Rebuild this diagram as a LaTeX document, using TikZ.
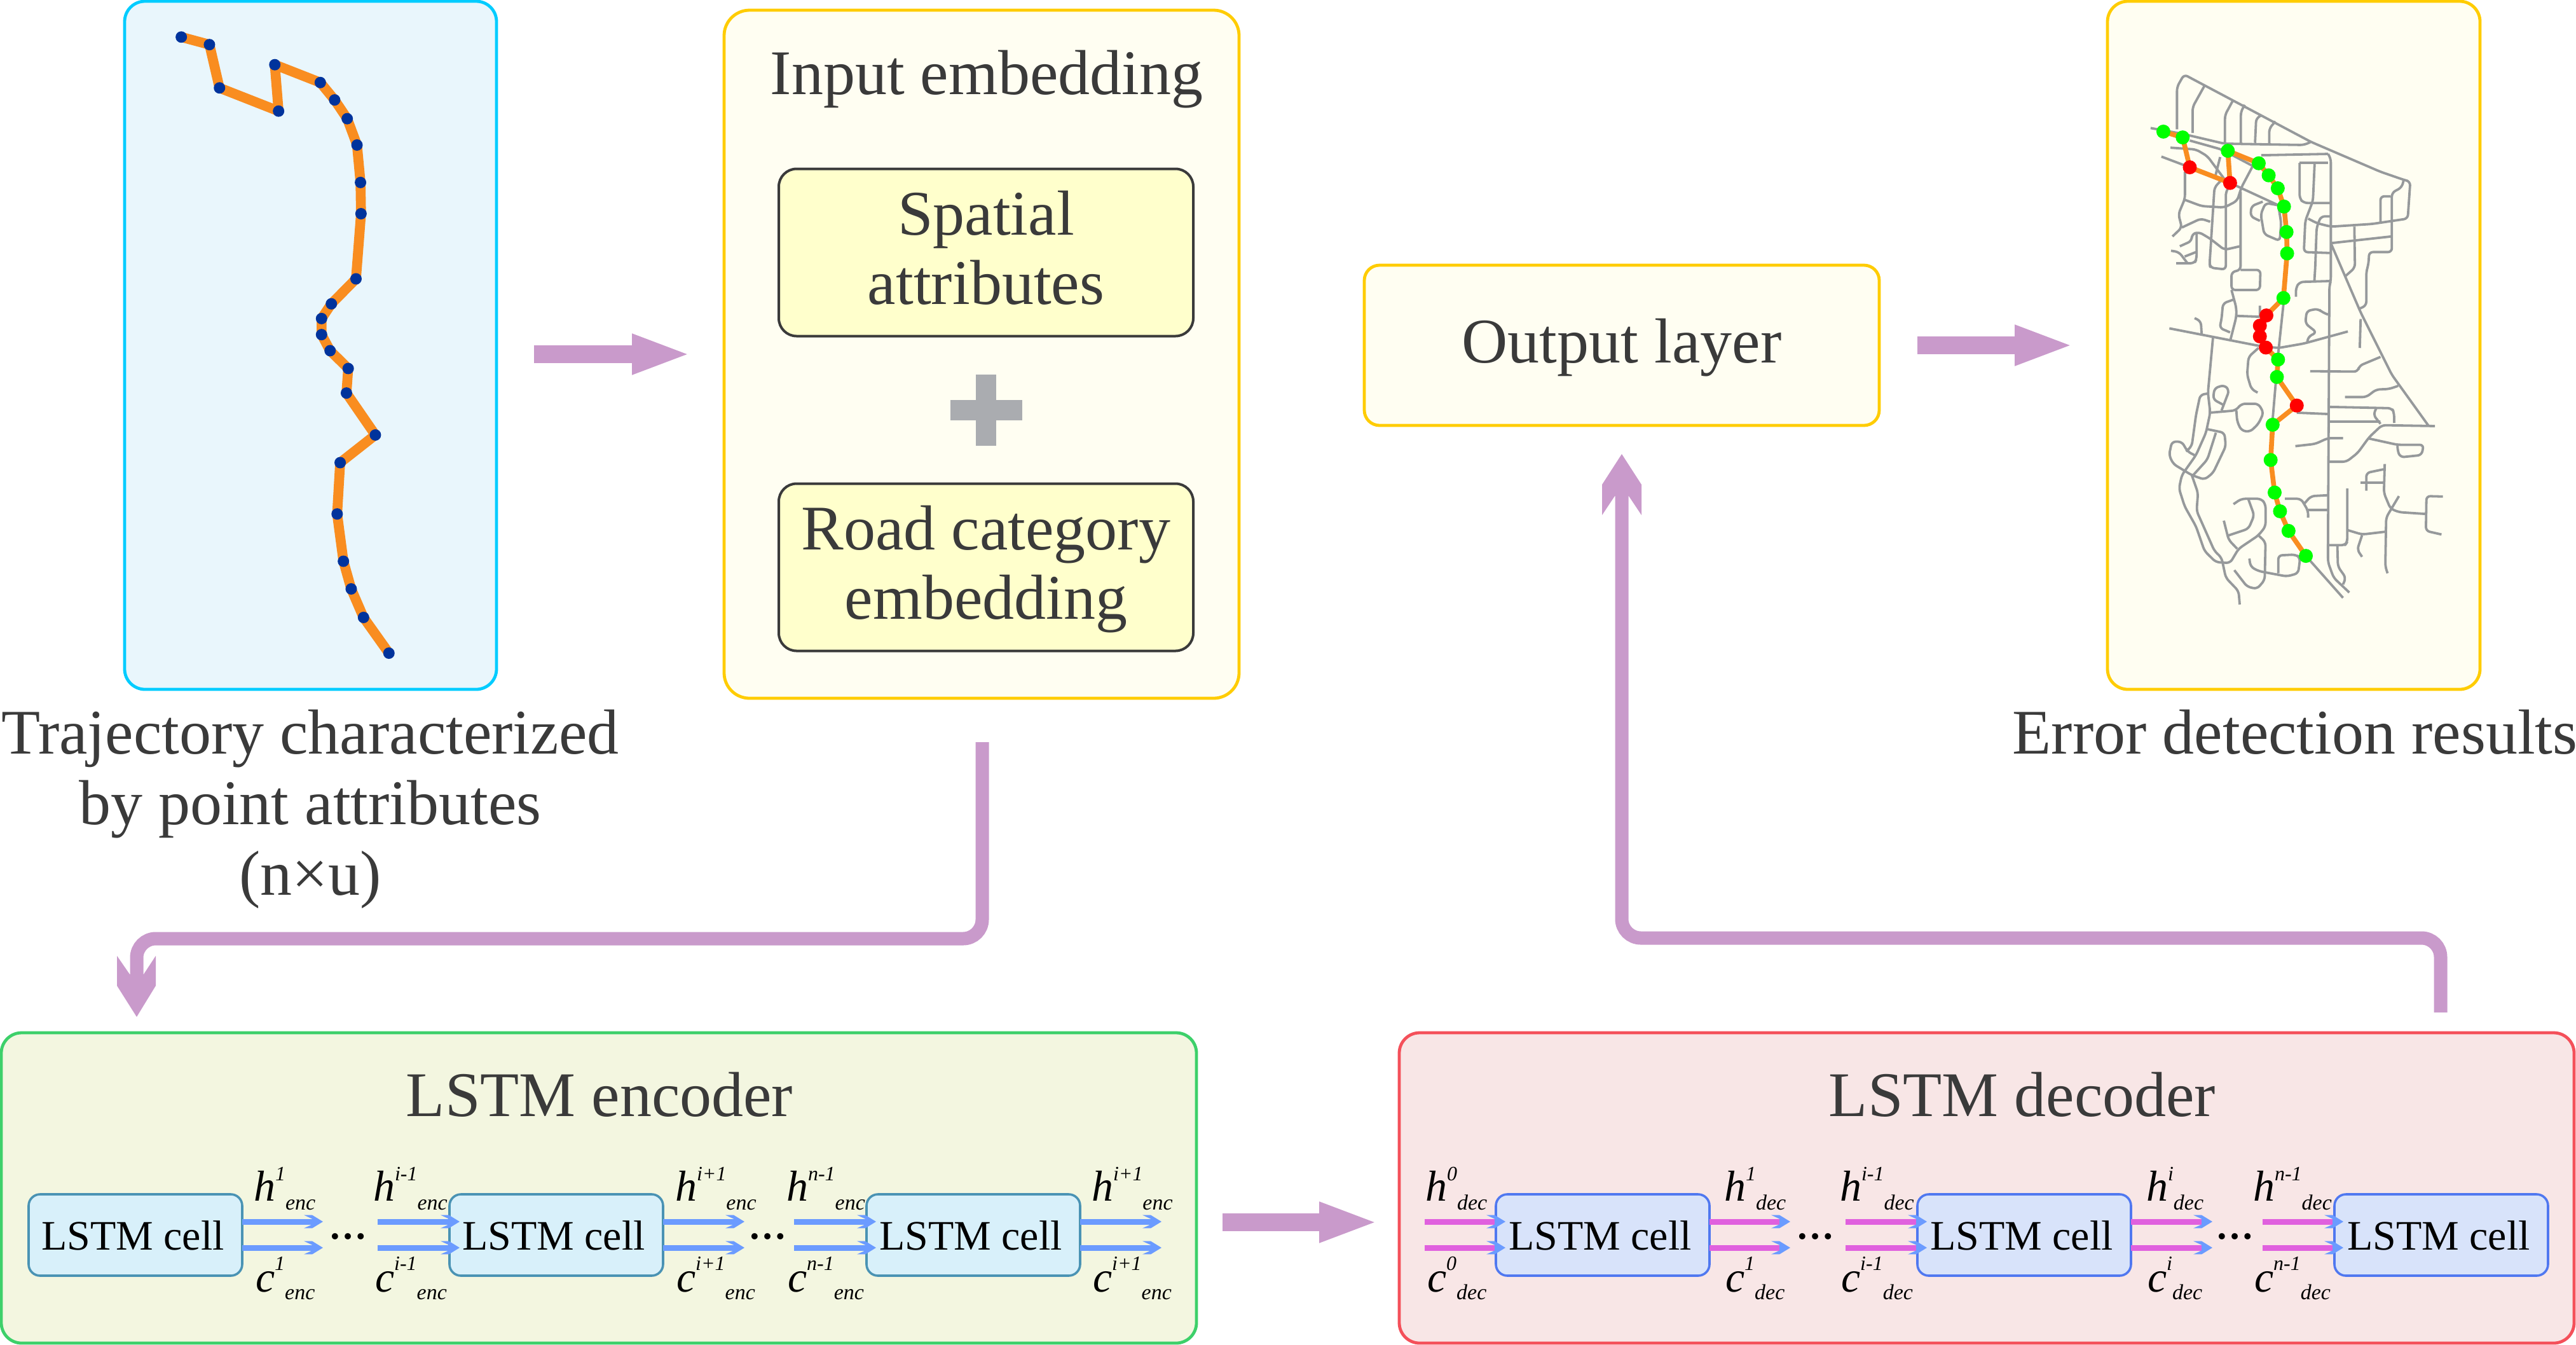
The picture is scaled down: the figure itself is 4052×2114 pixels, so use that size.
\documentclass[tikz,border=0pt]{standalone}
\usepackage{fontspec}
\setmainfont{Liberation Serif}
\usetikzlibrary{arrows.meta}
\definecolor{txt}{HTML}{3A3A3A}
\definecolor{flow}{HTML}{C99ACB}
\definecolor{bluearr}{HTML}{6B9BFF}
\definecolor{magarr}{HTML}{E060DE}
\definecolor{trajline}{HTML}{F98D20}
\definecolor{trajdot}{HTML}{00339C}
\definecolor{roadc}{HTML}{96999B}
\definecolor{okdot}{HTML}{00FF00}
\definecolor{baddot}{HTML}{FF0000}
\definecolor{plusc}{HTML}{AAACB0}
\definecolor{innerfill}{HTML}{FFFFCC}
\definecolor{enccelld}{HTML}{4A93B4}
\definecolor{enccellf}{HTML}{D8F0FA}
\definecolor{deccelld}{HTML}{5078F0}
\definecolor{deccellf}{HTML}{D8E3FA}
\pgfdeclarearrow{
  name=Chev,
  setup code={\pgfarrowssettipend{0pt}\pgfarrowssetlineend{-3.8pt}\pgfarrowssetbackend{-7.5pt}\pgfarrowssetvisualbackend{-7.5pt}},
  drawing code={
    \pgfsetfillcolor{pgfstrokecolor}
    \pgfpathmoveto{\pgfqpoint{0pt}{0pt}}
    \pgfpathlineto{\pgfqpoint{-4.25pt}{2.6pt}}
    \pgfpathlineto{\pgfqpoint{-7.5pt}{2.6pt}}
    \pgfpathlineto{\pgfqpoint{-4.25pt}{1.1pt}}
    \pgfpathlineto{\pgfqpoint{-4.25pt}{-1.1pt}}
    \pgfpathlineto{\pgfqpoint{-7.5pt}{-2.6pt}}
    \pgfpathlineto{\pgfqpoint{-4.25pt}{-2.6pt}}
    \pgfpathclose
    \pgfusepathqfill
  }
}
\newcommand{\twolines}[2]{\rule{0pt}{20pt}#1\\#2\rule[-6.6pt]{0pt}{6.6pt}}
\newcommand{\lstmtext}{LSTM cell\hspace*{2pt}}
% h or c, superscript, subscript, raise of the superscript, drop of the subscript
\newcommand{\statelabel}[5]{{\fontsize{17}{17}\selectfont #1}\raisebox{#4}{\fontsize{8}{8}\selectfont #2}\raisebox{-#5}{\fontsize{8.5}{8.5}\selectfont #3}}
\newcommand{\hlab}[2]{\statelabel{h}{#1}{#2}{8pt}{3.7pt}}
\newcommand{\clab}[2]{\statelabel{c}{#1}{#2}{8.5pt}{3.2pt}}
\tikzset{
  panel/.style={draw,rounded corners=8pt,line width=1.2pt,inner sep=0pt,outer sep=0pt},
  innerbox/.style={panel,draw=txt,fill=innerfill,line width=1pt,rounded corners=7pt,text=txt,align=center,
     minimum width=163pt,minimum height=65.75pt,font=\fontsize{25}{27.25}\selectfont},
  bigtext/.style={text=txt,inner sep=0pt,font=\fontsize{25}{27.75}\selectfont},
  cell/.style={draw,rounded corners=4.5pt,line width=.9pt,inner sep=0pt,outer sep=0pt,minimum width=84pt,minimum height=32pt,
     text height=15pt,text depth=3.5pt,font=\fontsize{16.5}{18}\selectfont},
  enccell/.style={cell,draw=enccelld,fill=enccellf},
  deccell/.style={cell,draw=deccelld,fill=deccellf},
  statenode/.style={anchor=base west,inner sep=0pt,outer sep=0pt,font=\itshape},
  dots/.style={anchor=base,inner sep=0pt,font=\fontsize{15}{15}\selectfont\bfseries},
  thin arrow/.style={line width=2.25pt,-{Chev}},
  encarrow/.style={thin arrow,draw=bluearr},
  decarrow/.style={thin arrow,draw=magarr},
  bigarrow/.style={draw=flow,line width=7pt,-{Triangle[length=23.5pt,width=14.25pt]}},
  routeline/.style={draw=flow,line width=5.25pt,rounded corners=7.5pt},
  road/.style={draw=roadc,line width=.95pt,rounded corners=1.5pt,line join=round},
}
\begin{document}
\begin{tikzpicture}[x=0.25pt,y=-0.25pt]
\useasboundingbox (0,0) rectangle (4052,2114);
\fill[white] (0,0) rectangle (4052,2114);

% Large panels
\node[panel,draw={rgb,255:red,0;green,204;blue,255},fill={rgb,255:red,233;green,246;blue,252},minimum width=146.25pt,minimum height=270.5pt] (traj) at (488.5,543) {};
\node[panel,draw={rgb,255:red,255;green,204;blue,0},fill={rgb,255:red,255;green,254;blue,242},minimum width=202.5pt,minimum height=270.5pt,rounded corners=10pt] (input) at (1544,557) {};
\node[panel,draw={rgb,255:red,255;green,204;blue,0},fill={rgb,255:red,255;green,254;blue,242},minimum width=202.5pt,minimum height=63pt,rounded corners=6pt,text=txt,text height=20.5pt,text depth=7pt,font=\fontsize{25}{27}\selectfont] (output) at (2551,543) {Output layer};
\node[panel,draw={rgb,255:red,255;green,204;blue,0},fill={rgb,255:red,255;green,254;blue,242},minimum width=146.5pt,minimum height=270.5pt] (result) at (3608,543) {};
\node[panel,draw={rgb,255:red,61;green,208;blue,106},fill={rgb,255:red,243;green,246;blue,224},minimum width=470pt,minimum height=122pt] (encoder) at (942,1868) {};
\node[panel,draw={rgb,255:red,244;green,80;blue,90},fill={rgb,255:red,248;green,230;blue,230},minimum width=462pt,minimum height=122pt] (decoder) at (3125,1868) {};

% Input embedding content
\node[bigtext,anchor=base] (inputtitle) at (1552,148) {Input embedding};
\node[innerbox] (spatial) at (1551,397) {\twolines{Spatial}{attributes}};
\node[innerbox] (roadcat) at (1551,892) {\twolines{Road category}{embedding}};
\fill[plusc] (1495,629) rectangle (1608,661);
\fill[plusc] (1535,589) rectangle (1567,701);

% Captions
\node[bigtext,anchor=north,align=center] (trajcap) at (488,1105) {\rule{0pt}{20pt}Trajectory characterized\\by point attributes\\(n×u)};
\node[bigtext,anchor=base west,font=\fontsize{25}{27}\selectfont] (rescap) at (3165,1185) {Error detection results};
\node[bigtext,anchor=base] (enctitle) at (943,1755) {LSTM encoder};
\node[bigtext,anchor=base] (dectitle) at (3181,1755) {LSTM decoder};

% Trajectory panel
\begin{scope}[shift={(45pt,0pt)},x=0.09885pt,y=-0.17538pt]
\draw[trajline,line width=3.9pt,line join=bevel]
 (266,83)--(378,100)--(418,197)--(653,249)--(638,145)--(819,185)--(876,224)--(926,266)--(965,325)--(979,409)--(981,479)--(961,625)--(863,681)--(824,714)--(824,750)--(858,786)--(930,826)--(923,881)--(1038,975)--(898,1037)--(886,1152)--(911,1258)--(942,1320)--(991,1384)--(1092,1464);
\foreach \a/\b in {266/83,378/100,418/197,653/249,638/145,819/185,876/224,926/266,965/325,979/409,981/479,961/625,863/681,824/714,824/750,858/786,930/826,923/881,1038/975,898/1037,886/1152,911/1258,942/1320,991/1384,1092/1464}
  \fill[trajdot] (\a,\b) circle[radius=2.25pt];
\end{scope}

% Road map
\begin{scope}[shift={(810pt,0pt)},x=0.1116pt,y=-0.17538pt]
\draw[road]
 (320,287)--(433,300)--(580,322)--(860,325)--(885,318)
 (413,290)--(413,195)--(438,167)--(885,318)--(1130,385)--(1212,403)--(1235,407)--(1226,490)--(1100,502)--(955,508)--(905,500)--(875,490)
 (510,192)--(468,240)--(468,298)
 (612,223)--(582,258)--(582,320)
 (652,235)--(638,250)--(638,320)
 (712,258)--(692,265)--(688,320)
 (760,272)--(738,288)--(738,322)
 (458,315)--(570,335)--(680,372)
 (390,331)--(480,335)--(520,350)--(590,410)
 (358,351)--(458,375)
 (600,410)--(770,460)
 (441,385)--(441,445)--(418,480)--(430,510)--(397,530)
 (430,510)--(497,490)--(530,497)
 (441,448)--(500,462)--(580,465)--(625,450)--(640,420)--(680,372)
 (565,352)--(548,395)
 (575,400)--(545,420)--(528,590)--(530,600)--(585,604)--(585,430)--(600,415)
 (423,552)--(465,540)--(465,525)--(490,520)--(530,535)--(580,560)--(635,552)
 (482,525)--(482,580)--(475,590)--(410,590)
 (392,562)--(420,565)--(450,590)
 (440,575)--(480,565)
 (637,430)--(637,605)--(605,610)--(605,650)--(705,650)--(707,605)--(637,605)
 (605,650)--(622,690)--(622,710)--(600,765)
 (610,672)--(575,680)--(570,715)--(563,735)--(600,745)
 (622,708)--(705,710)
 (705,685)--(705,710)
 (386,736)--(700,775)--(770,780)--(860,770)--(1015,743)
 (475,713)--(497,720)--(500,750)
 (700,780)--(665,800)--(660,840)--(675,872)--(697,880)
 (540,755)--(522,880)--(530,925)--(515,970)--(480,1020)--(430,1065)--(420,1095)--(440,1135)--(480,1180)--(510,1235)--(550,1260)--(600,1262)--(630,1230)--(700,1200)--(725,1180)--(725,1130)--(710,1118)--(640,1118)--(612,1130)
 (522,882)--(495,885)--(480,930)--(465,1000)--(445,1012)
 (480,1022)--(450,1012)--(430,990)--(395,990)--(385,1020)--(400,1040)--(465,1065)--(510,1075)--(540,1060)--(585,1000)--(580,970)--(520,962)
 (550,970)--(520,1030)--(470,1065)
 (530,925)--(620,920)--(640,905)--(700,905)--(718,925)--(700,950)--(670,968)--(640,965)--(625,945)--(622,920)
 (570,920)--(597,875)--(580,863)--(545,870)--(540,895)--(575,907)
 (465,1065)--(487,1105)--(482,1145)--(545,1235)--(570,1250)--(585,1295)--(630,1325)--(634,1355)
 (665,1120)--(685,1155)--(665,1185)--(595,1200)
 (578,1167)--(595,1210)--(625,1230)
 (700,1200)--(725,1215)--(722,1300)--(695,1320)--(660,1315)--(615,1278)
 (668,1252)--(672,1270)--(700,1280)--(800,1292)--(840,1285)--(847,1250)--(830,1243)--(770,1245)--(770,1285)
 (867,1246)--(998,1340)
 (945,345)--(955,355)--(955,630)--(950,640)--(945,1220)--(945,1260)--(965,1295)--(1020,1328)
 (955,545)--(1168,530)
 (1212,403)--(1205,420)--(1170,432)--(1170,565)--(1090,565)--(1088,590)--(1080,610)--(1080,685)--(1055,692)
 (1165,440)--(1130,440)--(1130,497)
 (1038,508)--(1040,600)--(1008,618)
 (955,545)--(1060,700)--(1170,840)--(1300,955)
 (1060,715)--(1057,780)
 (710,348)--(945,345)
 (845,365)--(945,365)
 (845,365)--(845,445)--(860,455)--(950,455)
 (898,365)--(892,450)--(865,495)--(860,565)--(950,567)
 (950,485)--(920,485)--(905,510)--(900,600)--(897,630)
 (950,630)--(845,632)--(832,645)--(832,665)
 (790,670)--(770,790)--(750,940)
 (715,452)--(675,462)--(672,485)--(705,495)
 (770,460)--(725,455)--(708,480)--(720,525)--(775,540)--(780,500)--(770,460)
 (945,705)--(925,700)--(910,692)--(870,697)--(865,725)--(905,745)--(875,755)--(872,768)
 (882,832)--(1050,833)--(1055,820)--(1130,800)
 (1005,890)--(1080,890)--(1115,873)--(1160,872)--(1192,865)
 (950,912)--(1170,915)--(1178,925)--(1178,948)
 (1115,915)--(1105,930)--(1130,950)
 (950,945)--(1130,945)
 (835,925)--(945,928)
 (830,1000)--(900,995)--(945,982)--(998,982)
 (950,1035)--(1010,1035)--(1050,1015)--(1090,980)--(1135,953)--(1322,955)
 (1090,983)--(1190,997)--(1282,997)--(1275,1020)--(1200,1025)--(1190,1010)--(1190,997)
 (1060,1082)--(1140,1082)
 (1080,1100)--(1080,1060)--(1140,1052)
 (1145,1040)--(1142,1105)--(1165,1140)--(1195,1148)--(1290,1152)
 (1195,1112)--(1150,1160)--(1147,1270)--(1155,1285)
 (1350,1113)--(1292,1112)--(1290,1190)--(1345,1198)
 (1013,1095)--(1013,1215)--(1005,1222)--(945,1222)
 (978,1222)--(980,1270)--(1008,1295)--(998,1310)
 (1013,1188)--(1065,1198)--(1145,1192)
 (1065,1200)--(1048,1232)--(1065,1248)
 (793,1118)--(850,1118)--(875,1145)--(875,1160)
 (860,1130)--(885,1112)--(945,1110)
 (875,1143)--(945,1143);
\draw[trajline,line width=1.9pt,line join=round]
 (365,295)--(433,308)--(458,375)--(600,410)--(592,338)--(701,366)--(736,393)--(768,422)--(790,463)--(799,520)--(801,568)--(788,668)--(728,707)--(705,730)--(705,754)--(726,779)--(769,806)--(765,845)--(835,909)--(750,952)--(743,1031)--(757,1104)--(776,1146)--(806,1190)--(867,1246);
\foreach \a/\b in {365/295,433/308,592/338,701/366,736/393,768/422,790/463,799/520,801/568,788/668,769/806,765/845,750/952,743/1031,757/1104,776/1146,806/1190,867/1246}
  \fill[okdot] (\a,\b) circle[radius=2.75pt];
\foreach \a/\b in {458/375,600/410,728/707,705/730,705/754,726/779,835/909}
  \fill[baddot] (\a,\b) circle[radius=2.75pt];
\end{scope}

% Encoder cells
\node[enccell] (e1) at (213,1942) {\lstmtext};
\node[enccell] (e2) at (875,1942) {\lstmtext};
\node[enccell] (e3) at (1531,1942) {\lstmtext};
% Decoder cells
\node[deccell] (d1) at (2521,1942) {\lstmtext};
\node[deccell] (d2) at (3184,1942) {\lstmtext};
\node[deccell] (d3) at (3840,1942) {\lstmtext};

% Encoder state arrows
\coordinate (e1hiend) at (508,1921); \coordinate (e1loend) at (508,1962);
\coordinate (e2hist) at (594,1921); \coordinate (e2lost) at (594,1962);
\coordinate (e2hiin) at (723,1921); \coordinate (e2loin) at (723,1962);
\coordinate (e2hiend) at (1171,1921); \coordinate (e2loend) at (1171,1962);
\coordinate (e3hist) at (1249,1921); \coordinate (e3lost) at (1249,1962);
\coordinate (e3hiin) at (1378,1921); \coordinate (e3loin) at (1378,1962);
\coordinate (e3hiend) at (1827,1921); \coordinate (e3loend) at (1827,1962);
\draw[encarrow] (e1.east |- e1hiend) -- (e1hiend);
\draw[encarrow] (e1.east |- e1loend) -- (e1loend);
\draw[encarrow] (e2hist) -- (e2hiin);
\draw[encarrow] (e2lost) -- (e2loin);
\draw[encarrow] (e2.east |- e2hiend) -- (e2hiend);
\draw[encarrow] (e2.east |- e2loend) -- (e2loend);
\draw[encarrow] (e3hist) -- (e3hiin);
\draw[encarrow] (e3lost) -- (e3loin);
\draw[encarrow] (e3.east |- e3hiend) -- (e3hiend);
\draw[encarrow] (e3.east |- e3loend) -- (e3loend);

% Decoder state arrows
\coordinate (d1hist) at (2241,1921); \coordinate (d1lost) at (2241,1962);
\coordinate (d1hiin) at (2368,1921); \coordinate (d1loin) at (2368,1962);
\coordinate (d1hiend) at (2816,1921); \coordinate (d1loend) at (2816,1962);
\coordinate (d2hist) at (2903,1921); \coordinate (d2lost) at (2903,1962);
\coordinate (d2hiin) at (3031,1921); \coordinate (d2loin) at (3031,1962);
\coordinate (d2hiend) at (3480,1921); \coordinate (d2loend) at (3480,1962);
\coordinate (d3hist) at (3559,1921); \coordinate (d3lost) at (3559,1962);
\coordinate (d3hiin) at (3686,1921); \coordinate (d3loin) at (3686,1962);
\draw[decarrow] (d1hist) -- (d1hiin);
\draw[decarrow] (d1lost) -- (d1loin);
\draw[decarrow] (d1.east |- d1hiend) -- (d1hiend);
\draw[decarrow] (d1.east |- d1loend) -- (d1loend);
\draw[decarrow] (d2hist) -- (d2hiin);
\draw[decarrow] (d2lost) -- (d2loin);
\draw[decarrow] (d2.east |- d2hiend) -- (d2hiend);
\draw[decarrow] (d2.east |- d2loend) -- (d2loend);
\draw[decarrow] (d3hist) -- (d3hiin);
\draw[decarrow] (d3lost) -- (d3loin);

% Ellipses
\node[dots] (edots1) at (547,1948) {…};
\node[dots] (edots2) at (1207,1948) {…};
\node[dots] (ddots1) at (2855,1948) {…};
\node[dots] (ddots2) at (3515,1948) {…};

% Encoder labels
\node[statenode] (eh1) at (399,1888) {\hlab{1}{enc}};
\node[statenode] (ec1) at (402,2031) {\clab{1}{enc}};
\node[statenode] (eh2) at (587,1888) {\hlab{i-1}{enc}};
\node[statenode] (ec2) at (590,2031) {\clab{i-1}{enc}};
\node[statenode] (eh3) at (1062,1888) {\hlab{i+1}{enc}};
\node[statenode] (ec3) at (1064,2031) {\clab{i+1}{enc}};
\node[statenode] (eh4) at (1237,1888) {\hlab{n-1}{enc}};
\node[statenode] (ec4) at (1239,2031) {\clab{n-1}{enc}};
\node[statenode] (eh5) at (1717,1888) {\hlab{i+1}{enc}};
\node[statenode] (ec5) at (1719,2031) {\clab{i+1}{enc}};
% Decoder labels
\node[statenode] (dh1) at (2242,1888) {\hlab{0}{dec}};
\node[statenode] (dc1) at (2245,2031) {\clab{0}{dec}};
\node[statenode] (dh2) at (2712,1888) {\hlab{1}{dec}};
\node[statenode] (dc2) at (2714,2031) {\clab{1}{dec}};
\node[statenode] (dh3) at (2894,1888) {\hlab{i-1}{dec}};
\node[statenode] (dc3) at (2896,2031) {\clab{i-1}{dec}};
\node[statenode] (dh4) at (3376,1888) {\hlab{i}{dec}};
\node[statenode] (dc4) at (3378,2031) {\clab{i}{dec}};
\node[statenode] (dh5) at (3544,1888) {\hlab{n-1}{dec}};
\node[statenode] (dc5) at (3546,2031) {\clab{n-1}{dec}};

% Flow arrows
\coordinate (f1a) at (840,557); \coordinate (f1b) at (1088,557);
\draw[bigarrow] (f1a) -- (f1b);
\coordinate (f2a) at (3016,543); \coordinate (f2b) at (3263,543);
\draw[bigarrow] (f2a) -- (f2b);
\coordinate (f3a) at (1923,1922); \coordinate (f3b) at (2169,1922);
\draw[bigarrow] (f3a) -- (f3b);

\coordinate (f4a) at (1545,1167);
\coordinate (f4b) at (215,1545);
\draw[routeline] (f4a) -- (1545,1476) -- (215,1476) -- (f4b);
\fill[flow] (215,1599) -- (245,1550) -- (245,1503) -- (226,1532) -- (204,1532) -- (184,1503) -- (184,1550) -- cycle;

\coordinate (f5a) at (3839,1592);
\coordinate (f5b) at (2551,760);
\draw[routeline] (f5a) -- (3839,1475) -- (2551,1475) -- (f5b);
\fill[flow] (2551,714) -- (2582,762) -- (2582,810) -- (2562,780) -- (2540,780) -- (2520,810) -- (2520,762) -- cycle;
\end{tikzpicture}
\end{document}
